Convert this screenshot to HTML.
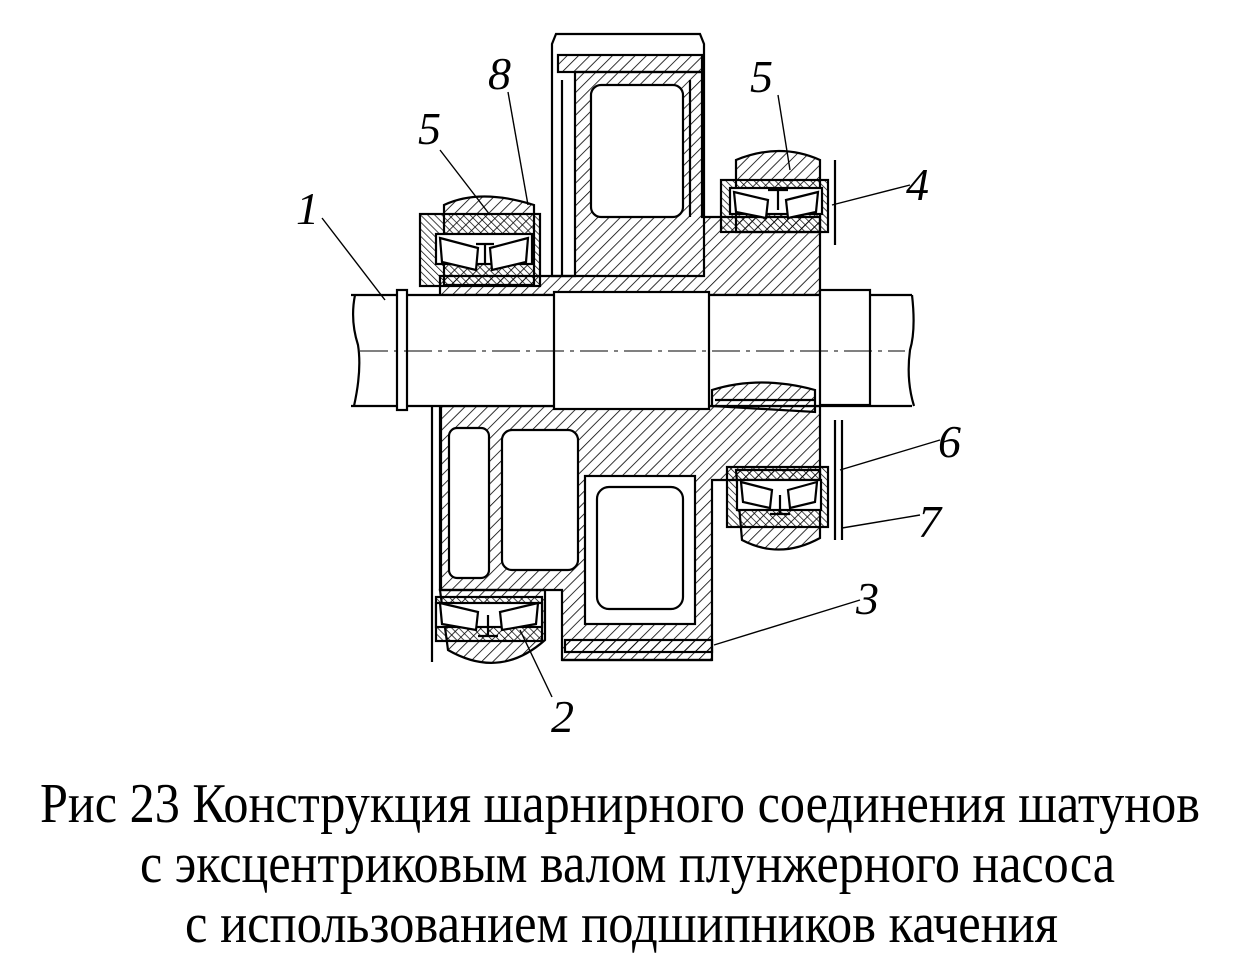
<!DOCTYPE html>
<html><head><meta charset="utf-8"><style>html,body{margin:0;padding:0;background:#fff}svg{display:block}</style></head>
<body>
<svg width="1246" height="972" viewBox="0 0 1246 972" xmlns="http://www.w3.org/2000/svg">
<defs>
<pattern id="h" patternUnits="userSpaceOnUse" width="8" height="8" patternTransform="rotate(45)">
<line x1="0" y1="0" x2="0" y2="8" stroke="#000" stroke-width="1.6"/></pattern>
<pattern id="h2" patternUnits="userSpaceOnUse" width="5" height="5" patternTransform="rotate(-45)">
<line x1="0" y1="0" x2="0" y2="5" stroke="#000" stroke-width="1.4"/></pattern>
</defs>
<g stroke="#000" stroke-width="2.2" fill="none">
<!-- upper gear -->
<path d="M556 34 L700 34 L704 44 L704 276 L552 276 L552 44 Z" fill="#fff"/>
<rect x="558" y="55" width="144" height="17" fill="url(#h)"/>
<path d="M575 72 L702 72 L702 217 L820 217 L820 295 L440 295 L440 276 L575 276 Z" fill="url(#h)"/>
<rect x="591" y="85" width="92" height="132" rx="10" fill="#fff"/>
<line x1="562" y1="80" x2="562" y2="276"/><line x1="690" y1="80" x2="690" y2="217"/>
<!-- lower hub and gear -->
<path d="M440 406 L820 406 L820 480 L712 480 L712 660 L562 660 L562 590 L440 590 Z" fill="url(#h)"/>
<rect x="502" y="430" width="76" height="140" rx="10" fill="#fff"/>
<rect x="449" y="428" width="40" height="150" rx="8" fill="#fff"/>
<rect x="585" y="476" width="110" height="148" fill="#fff"/>
<rect x="597" y="487" width="86" height="122" rx="12"/>
<rect x="565" y="640" width="147" height="12" fill="url(#h)"/>
<line x1="562" y1="660" x2="712" y2="660"/>
<!-- shaft -->
<rect x="355" y="295" width="555" height="111" fill="#fff" stroke="none"/>
<line x1="351" y1="295" x2="912" y2="295"/><line x1="351" y1="406" x2="912" y2="406"/>
<path d="M355 295 Q350 320 358 345 Q362 370 354 406" />
<path d="M912 295 Q916 330 910 350 Q906 380 914 406"/>
<rect x="397" y="290" width="10" height="120" fill="#fff"/>
<rect x="554" y="292" width="155" height="117" fill="#fff"/>
<rect x="820" y="290" width="50" height="115" fill="#fff"/>
<path d="M712 406 L712 390 Q760 375 815 390 L815 412 Z" fill="url(#h)"/>
<line x1="715" y1="400" x2="815" y2="400"/>
<!-- bearings -->
<g>
<path d="M444 205 Q480 188 534 205 L534 285 L444 285 Z" fill="url(#h)"/>
<rect x="420" y="214" width="120" height="72" fill="url(#h2)"/>
<rect x="436" y="234" width="96" height="30" fill="#fff"/>
<path d="M440 238 L478 248 L476 270 L442 262 Z" fill="#fff"/><path d="M528 238 L490 248 L492 270 L526 262 Z" fill="#fff"/>
<path d="M476 244 L494 244 M485 244 L485 265"/>
</g>
<g>
<path d="M736 160 Q780 142 820 160 L820 232 L736 232 Z" fill="url(#h)"/>
<rect x="721" y="180" width="107" height="52" fill="url(#h2)"/>
<rect x="730" y="188" width="92" height="26" fill="#fff"/>
<path d="M734 192 L768 200 L766 218 L736 212 Z" fill="#fff"/><path d="M818 192 L786 200 L788 218 L816 212 Z" fill="#fff"/>
<path d="M768 190 L788 190 M778 190 L778 210"/>
<line x1="835" y1="160" x2="835" y2="245"/>
</g>
<g>
<path d="M736 470 L820 470 L820 538 Q780 560 742 540 Z" fill="url(#h)"/>
<rect x="727" y="467" width="101" height="60" fill="url(#h2)"/>
<rect x="737" y="480" width="84" height="30" fill="#fff"/>
<path d="M741 482 L772 490 L770 508 L743 502 Z" fill="#fff"/><path d="M817 482 L788 490 L790 508 L815 502 Z" fill="#fff"/>
<path d="M770 514 L790 514 M780 495 L780 514"/>
<line x1="835" y1="420" x2="835" y2="540"/><line x1="842" y1="420" x2="842" y2="540"/>
</g>
<g>
<path d="M440 590 L545 590 L545 640 Q500 680 448 650 Z" fill="url(#h)"/>
<rect x="436" y="597" width="106" height="44" fill="url(#h2)"/>
<rect x="436" y="603" width="106" height="24" fill="#fff"/>
<path d="M440 603 L478 612 L476 630 L442 624 Z" fill="#fff"/><path d="M538 603 L500 612 L502 630 L536 624 Z" fill="#fff"/>
<path d="M478 636 L498 636 M488 615 L488 636"/>
<line x1="432" y1="405" x2="432" y2="662"/><line x1="441" y1="405" x2="441" y2="590"/>
</g>
<!-- centerline -->
<path d="M360 351 L905 351" stroke-width="1" stroke-dasharray="28 6 4 6"/>
<!-- leaders -->
<g stroke-width="1.4">
<line x1="322" y1="218" x2="385" y2="300"/>
<line x1="440" y1="150" x2="490" y2="215"/>
<line x1="508" y1="92" x2="528" y2="205"/>
<line x1="778" y1="95" x2="790" y2="170"/>
<line x1="910" y1="185" x2="832" y2="205"/>
<line x1="940" y1="440" x2="840" y2="470"/>
<line x1="920" y1="515" x2="842" y2="528"/>
<line x1="860" y1="600" x2="714" y2="645"/>
<line x1="552" y1="697" x2="520" y2="630"/>
</g>
</g>
<g font-family="Liberation Serif, serif" font-style="italic" font-size="46" fill="#000">
<text x="296" y="224">1</text><text x="488" y="89">8</text><text x="418" y="144">5</text>
<text x="750" y="92">5</text><text x="906" y="200">4</text><text x="938" y="457">6</text>
<text x="918" y="537">7</text><text x="856" y="614">3</text><text x="551" y="732">2</text>
</g>
<g font-family="Liberation Serif, serif" font-size="56" fill="#000">
<text x="40" y="822" textLength="1160" lengthAdjust="spacingAndGlyphs">Рис 23 Конструкция шарнирного соединения шатунов</text>
<text x="140" y="882" textLength="975" lengthAdjust="spacingAndGlyphs">с эксцентриковым валом плунжерного насоса</text>
<text x="185" y="942" textLength="873" lengthAdjust="spacingAndGlyphs">с использованием подшипников качения</text>
</g>
</svg>
</body></html>
